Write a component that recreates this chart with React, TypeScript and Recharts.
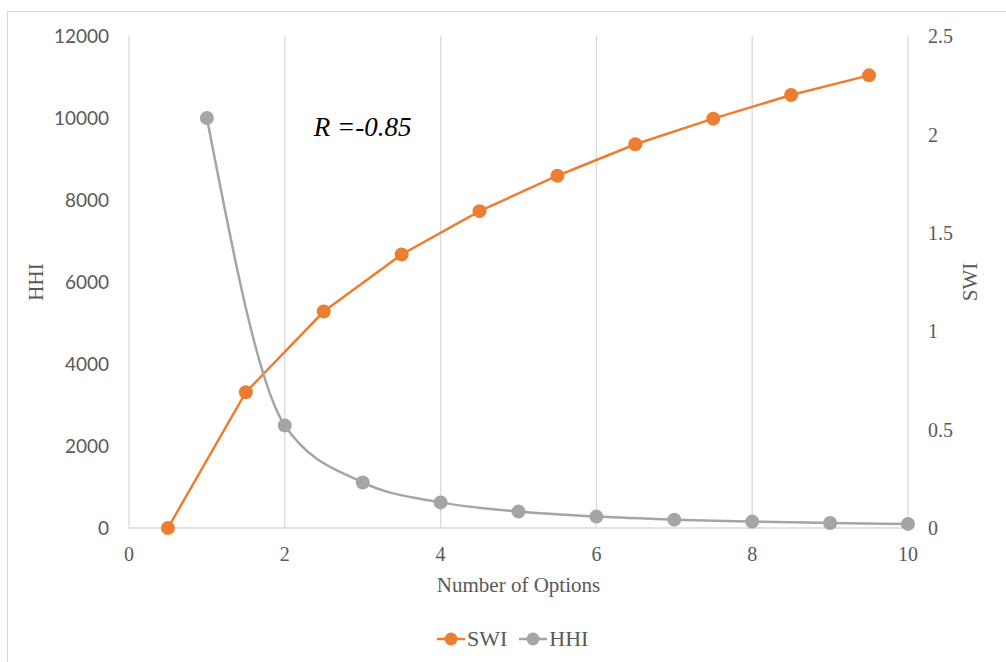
import React from "react"
import {
  ComposedChart,
  Line,
  XAxis,
  YAxis,
  CartesianGrid,
  Legend,
  ReferenceDot,
} from "recharts"

// SWI is plotted at the half positions, HHI at whole numbers
const swiX = [0.5, 1.5, 2.5, 3.5, 4.5, 5.5, 6.5, 7.5, 8.5, 9.5]
const swiValues = [0, 0.69, 1.1, 1.39, 1.61, 1.79, 1.95, 2.08, 2.2, 2.3]

const hhiX = [1, 2, 3, 4, 5, 6, 7, 8, 9, 10]
const hhiValues = [10000, 2500, 1111, 625, 400, 278, 204, 156, 123, 100]

const xTicks = [0, 2, 4, 6, 8, 10]
const hhiTicks = [0, 2000, 4000, 6000, 8000, 10000, 12000]
const swiTicks = [0, 0.5, 1, 1.5, 2, 2.5]

const ORANGE = "#ED7D31"
const GRAY = "#A5A5A5"
const TEXT = "#595959"
const GRID = "#D9D9D9"
const SERIF = "'Liberation Serif', 'Times New Roman', serif"

const swiData = swiX.map((x, i) => ({ x, y: swiValues[i] }))
const hhiData = hhiX.map((x, i) => ({ x, y: hhiValues[i] }))

const legendItems = [
  { name: "SWI", color: ORANGE },
  { name: "HHI", color: GRAY },
]

function LegendContent() {
  return (
    <div style={{ display: "flex", alignItems: "center" }}>
      {legendItems.map((item) => (
        <div key={item.name} style={{ display: "flex", alignItems: "center", marginRight: 12 }}>
          <svg width={28} height={16}>
            <line x1={0} y1={8} x2={28} y2={8} stroke={item.color} strokeWidth={2.5} />
            <circle cx={14} cy={8} r={6.5} fill={item.color} />
          </svg>
          <span style={{ fontFamily: SERIF, fontSize: 22, color: TEXT, lineHeight: "22px", marginLeft: 2 }}>
            {item.name}
          </span>
        </div>
      ))}
    </div>
  )
}

export default function App() {
  return (
    <div style={{ position: "absolute", left: 0, top: 0, width: 1006, height: 662, overflow: "hidden", background: "#fff" }}>
      <div
        style={{
          position: "absolute",
          left: 7,
          top: 11,
          width: 1020,
          height: 700,
          border: `1px solid ${GRID}`,
        }}
      />
      <ComposedChart width={1006} height={662} margin={{ top: 36, right: 0, left: 0, bottom: 24 }}>
        <CartesianGrid horizontal={false} vertical stroke={GRID} strokeWidth={1.3} />
        <XAxis
          dataKey="x"
          type="number"
          domain={[0, 10]}
          ticks={xTicks}
          allowDuplicatedCategory={false}
          axisLine={{ stroke: GRID, strokeWidth: 1.3 }}
          tickLine={false}
          tickMargin={13}
          height={70}
          tick={{ fill: TEXT, fontSize: 20, fontFamily: SERIF }}
          label={{
            value: "Number of Options",
            position: "insideBottom",
            offset: 6,
            fill: TEXT,
            fontSize: 21,
            fontFamily: SERIF,
          }}
        />
        <YAxis
          yAxisId="left"
          domain={[0, 12000]}
          ticks={hhiTicks}
          width={129}
          axisLine={false}
          tickLine={false}
          tickMargin={14}
          tick={{ fill: TEXT, fontSize: 19, fontFamily: "Lato, sans-serif" }}
          label={{
            value: "HHI",
            angle: -90,
            position: "insideLeft",
            offset: 36,
            fill: TEXT,
            fontSize: 21,
            fontFamily: SERIF,
            style: { textAnchor: "middle" },
          }}
        />
        <YAxis
          yAxisId="right"
          orientation="right"
          domain={[0, 2.5]}
          ticks={swiTicks}
          width={98}
          axisLine={false}
          tickLine={false}
          tickMargin={14}
          tick={{ fill: TEXT, fontSize: 20, fontFamily: SERIF, textAnchor: "start" }}
          label={{
            value: "SWI",
            angle: -90,
            position: "insideRight",
            offset: 36,
            fill: TEXT,
            fontSize: 21,
            fontFamily: SERIF,
            style: { textAnchor: "middle" },
          }}
        />
        <Line
          yAxisId="right"
          data={swiData}
          dataKey="y"
          name="SWI"
          type="linear"
          stroke={ORANGE}
          strokeWidth={2.5}
          dot={{ r: 7, fill: ORANGE, stroke: ORANGE, strokeWidth: 0 }}
          activeDot={false}
          isAnimationActive={false}
        />
        <Line
          yAxisId="left"
          data={hhiData}
          dataKey="y"
          name="HHI"
          type="monotone"
          stroke={GRAY}
          strokeWidth={2.5}
          dot={{ r: 7, fill: GRAY, stroke: GRAY, strokeWidth: 0 }}
          activeDot={false}
          isAnimationActive={false}
        />
        <ReferenceDot
          yAxisId="left"
          x={3}
          y={9800}
          r={0}
          stroke="none"
          fill="none"
          label={{
            value: "R =-0.85",
            position: "center",
            fill: "#000",
            fontSize: 27,
            fontStyle: "italic",
            fontFamily: SERIF,
          }}
        />
        <Legend
          verticalAlign="bottom"
          height={40}
          content={<LegendContent />}
          wrapperStyle={{ left: 437, top: 628, width: "auto", bottom: "auto" }}
        />
      </ComposedChart>
    </div>
  )
}
